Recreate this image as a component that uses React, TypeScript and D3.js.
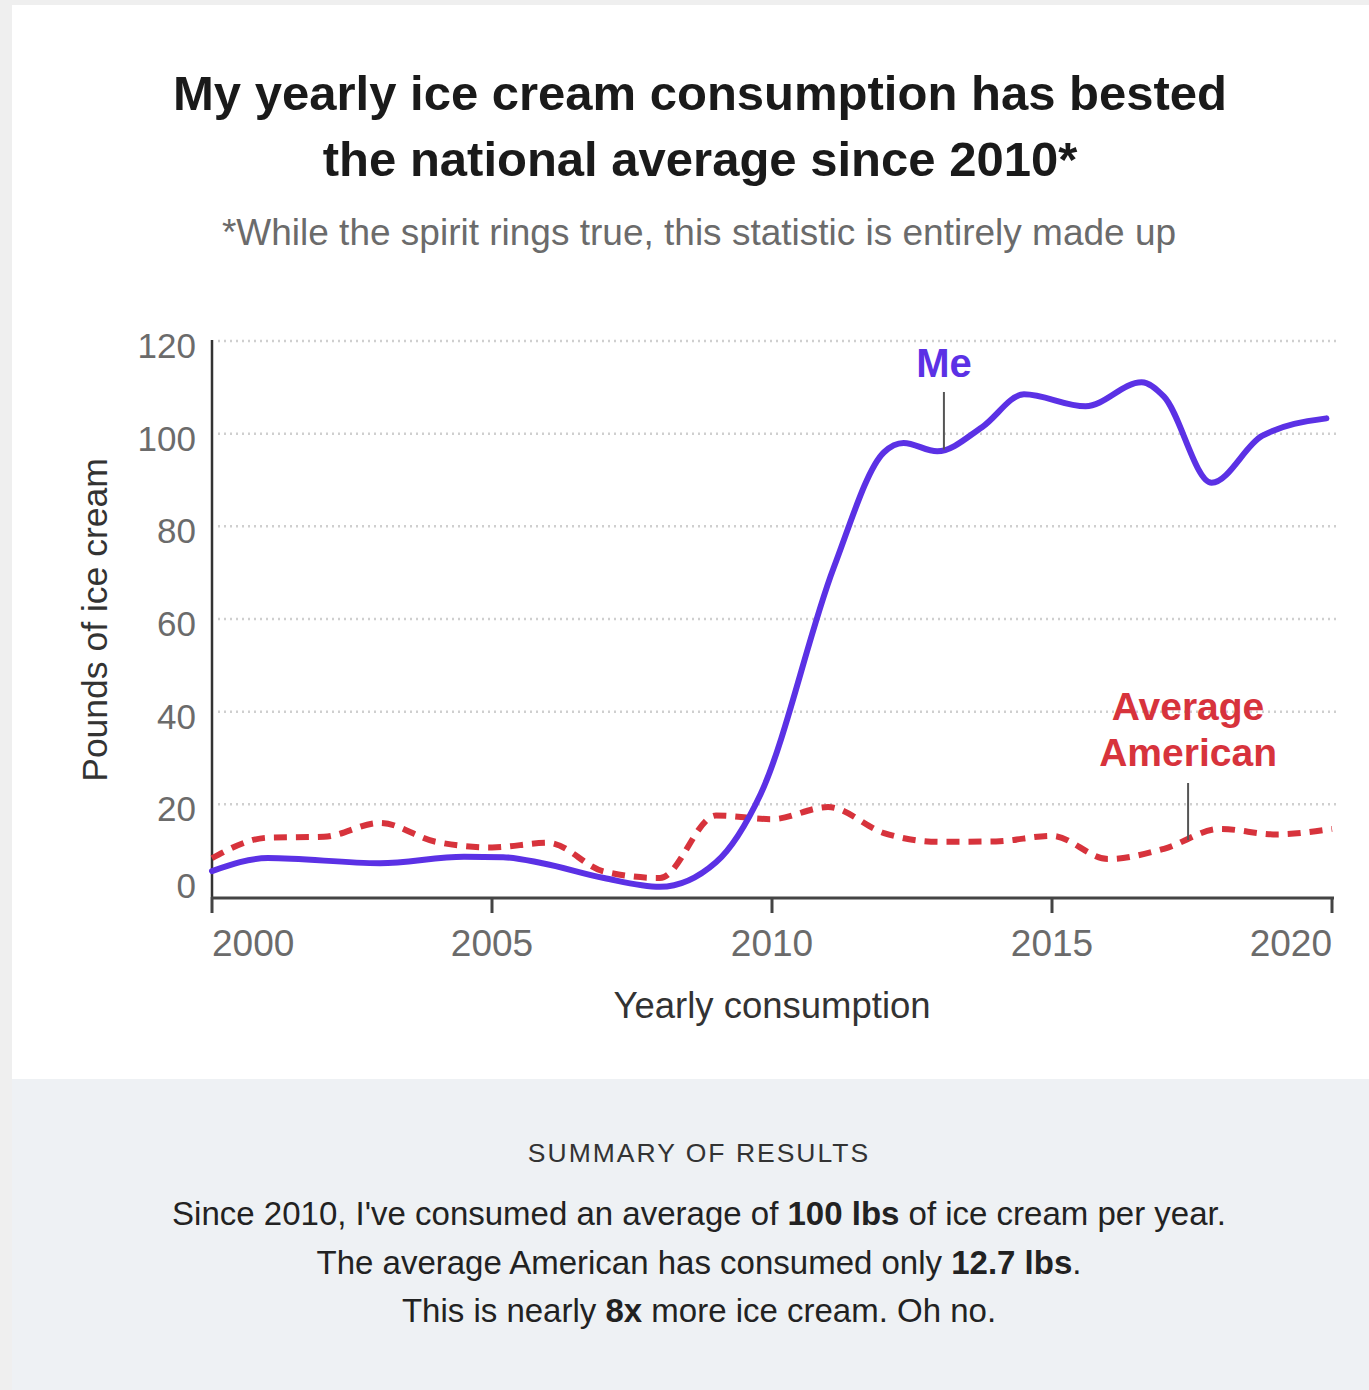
import React from "react";
import * as d3 from "d3";

// ---- Data ----
const meYears = [2000, 2001, 2003, 2004.5, 2005.2, 2005.9, 2007, 2008, 2009, 2009.8, 2011.1, 2012, 2012.35, 2012.95, 2013.75, 2014.5, 2015.6, 2016.6, 2017.0, 2017.85, 2018.75, 2019.9];
const meValues = [5.6, 8.4, 7.3, 8.7, 8.6, 7.3, 4.1, 2.2, 7.5, 22.3, 71, 96, 98, 96.2, 101.4, 108.5, 105.9, 111.1, 108, 89.4, 99.5, 103.3];

const avgYears = [2000, 2001, 2002, 2003, 2004, 2005, 2006, 2007, 2008, 2009, 2010, 2011, 2012, 2013, 2014, 2015, 2016, 2017, 2018, 2019, 2020];
const avgValues = [8.4, 12.8, 13, 16, 11.9, 10.7, 11.7, 5.5, 4.1, 17.6, 16.8, 19.4, 13.8, 11.9, 12, 13.2, 8.2, 10.4, 14.7, 13.5, 14.7];

const yTicks = [0, 20, 40, 60, 80, 100, 120];
const xTicks = [2000, 2005, 2010, 2015, 2020];

const title = ["My yearly ice cream consumption has bested", "the national average since 2010*"];
const subtitle = "*While the spirit rings true, this statistic is entirely made up";
const yTitle = "Pounds of ice cream";
const xTitle = "Yearly consumption";

const meLabel = { text: ["Me"], year: 2013.07, value: 96.6 };
const avgLabel = { text: ["Average", "American"], year: 2017.43, value: 12.3 };

const summaryHeading = "SUMMARY OF RESULTS";

const PURPLE = "#5b31e5";
const RED = "#d7333c";
const FONT = "'Liberation Sans', Arial, Helvetica, sans-serif";

export default function App() {
  const W = 1369;
  const H = 1390;
  const x = d3.scaleLinear().domain([2000, 2020]).range([212, 1332]);
  const y = d3.scaleLinear().domain([0, 120]).range([897, 341]);

  const line = d3
    .line<[number, number]>()
    .x((d) => x(d[0]))
    .y((d) => y(d[1]))
    .curve(d3.curveMonotoneX);

  const meData: [number, number][] = meYears.map((yr, i) => [yr, meValues[i]]);
  const avgData: [number, number][] = avgYears.map((yr, i) => [yr, avgValues[i]]);

  const gridLeft = 218;
  const gridRight = 1336;

  return (
    <div style={{ position: "absolute", left: 0, top: 0 }}>
      <svg width={W} height={H} style={{ display: "block", fontFamily: FONT }}>
        <rect x={0} y={0} width={W} height={H} fill="#efefef" />
        <rect x={12} y={5} width={W - 12} height={H - 5} fill="#ffffff" />
        <rect x={12} y={1079} width={W - 12} height={H - 1079} fill="#eef1f4" />

        {/* title */}
        {title.map((t, i) => (
          <text key={i} x={700} y={110 + i * 66} textAnchor="middle" fontSize={49} fontWeight={700} fill="#1a1a1a">
            {t}
          </text>
        ))}
        <text x={699} y={245} textAnchor="middle" fontSize={37} fill="#6b6b6b">
          {subtitle}
        </text>

        {/* gridlines */}
        {yTicks.filter((t) => t > 0).map((t) => (
          <line key={t} x1={gridLeft} x2={gridRight} y1={y(t)} y2={y(t)} stroke="#cfcfcf" strokeWidth={2.5} strokeDasharray="2 4" />
        ))}

        {/* y axis */}
        <line x1={212} x2={212} y1={y(120) - 1} y2={y(0)} stroke="#333" strokeWidth={2.5} />
        {yTicks.map((t) => (
          <text key={t} x={196} y={t === 0 ? y(t) + 1 : y(t) + 17} textAnchor="end" fontSize={35} fill="#6b6b6b">
            {t}
          </text>
        ))}
        <text transform={`translate(107, 620) rotate(-90)`} textAnchor="middle" fontSize={35.5} fill="#333">
          {yTitle}
        </text>

        {/* x axis */}
        <line x1={211} x2={1334} y1={y(0) + 1} y2={y(0) + 1} stroke="#444" strokeWidth={3} />
        {xTicks.map((t, i) => (
          <g key={t}>
            <line x1={x(t)} x2={x(t)} y1={y(0)} y2={y(0) + 16} stroke="#444" strokeWidth={3} />
            <text
              x={x(t)}
              y={956}
              textAnchor={i === 0 ? "start" : i === xTicks.length - 1 ? "end" : "middle"}
              fontSize={37}
              fill="#6b6b6b"
            >
              {t}
            </text>
          </g>
        ))}
        <text x={772} y={1018} textAnchor="middle" fontSize={36.5} fill="#333">
          {xTitle}
        </text>

        {/* lines */}
        <path d={line(avgData) || ""} fill="none" stroke={RED} strokeWidth={6} strokeDasharray="13 9" />
        <path d={line(meData) || ""} fill="none" stroke={PURPLE} strokeWidth={6} strokeLinejoin="round" strokeLinecap="round" />

        {/* annotations */}
        <line x1={x(meLabel.year)} x2={x(meLabel.year)} y1={392} y2={y(meLabel.value)} stroke="#555" strokeWidth={2} />
        <text x={x(meLabel.year)} y={377} textAnchor="middle" fontSize={40} fontWeight={700} fill={PURPLE}>
          {meLabel.text[0]}
        </text>
        <line x1={x(avgLabel.year)} x2={x(avgLabel.year)} y1={783} y2={y(avgLabel.value)} stroke="#555" strokeWidth={2} />
        {avgLabel.text.map((t, i) => (
          <text key={t} x={x(avgLabel.year)} y={720 + i * 46} textAnchor="middle" fontSize={39} fontWeight={700} fill={RED}>
            {t}
          </text>
        ))}

        {/* summary */}
        <text x={699} y={1162} textAnchor="middle" fontSize={26.5} letterSpacing={2} fill="#333">
          {summaryHeading}
        </text>
        <text x={699} y={1225} textAnchor="middle" fontSize={33} fill="#222">
          <tspan>Since 2010, I've consumed an average of </tspan>
          <tspan fontWeight={700}>100 lbs</tspan>
          <tspan> of ice cream per year.</tspan>
        </text>
        <text x={699} y={1274} textAnchor="middle" fontSize={33} fill="#222">
          <tspan>The average American has consumed only </tspan>
          <tspan fontWeight={700}>12.7 lbs</tspan>
          <tspan>.</tspan>
        </text>
        <text x={699} y={1322} textAnchor="middle" fontSize={33} fill="#222">
          <tspan>This is nearly </tspan>
          <tspan fontWeight={700}>8x</tspan>
          <tspan> more ice cream. Oh no.</tspan>
        </text>
      </svg>
    </div>
  );
}
